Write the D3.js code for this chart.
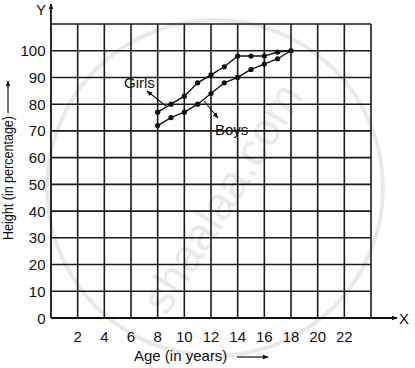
<!DOCTYPE html>
<html>
<head>
<meta charset="utf-8">
<script src="https://cdn.jsdelivr.net/npm/d3@7"></script>
<style>
  body { margin: 0; background: #fff; }
  text { font-family: "Liberation Sans", Arial, sans-serif; fill: #111; font-size: 15px; }
</style>
</head>
<body>
<script>
// data
const ages = [8, 9, 10, 11, 12, 13, 14, 15, 16, 17, 18];
const girls = [77, 80, 83, 88, 91, 94, 98, 98, 98, 99.5, 100];
const boys = [72, 75, 77, 80, 84, 88, 90, 93, 95, 97, 100];
const xTicks = [2, 4, 6, 8, 10, 12, 14, 16, 18, 20, 22];
const yTicks = [0, 10, 20, 30, 40, 50, 60, 70, 80, 90, 100];

const width = 415, height = 368;
const svg = d3.select("body").append("svg")
    .attr("width", width)
    .attr("height", height);

const x = d3.scaleLinear().domain([0, 24]).range([51, 371]);
const y = d3.scaleLinear().domain([0, 110]).range([318, 24]);

// watermark
const wm = svg.append("g").attr("opacity", 0.11);
wm.append("circle")
    .attr("cx", 215).attr("cy", 188).attr("r", 168)
    .attr("fill", "none").attr("stroke", "#444").attr("stroke-width", 4);
wm.append("text")
    .attr("transform", "translate(225,200) rotate(-58)")
    .attr("text-anchor", "middle")
    .attr("dominant-baseline", "middle")
    .style("font-size", "46px")
    .style("fill", "#444")
    .text("shaalaa.com");

// grid
const grid = svg.append("g").attr("stroke", "#1a1a1a").attr("stroke-width", 1.6);
grid.selectAll(".vx")
    .data(d3.range(2, 25, 2))
    .enter()
    .append("line")
    .attr("x1", d => x(d)).attr("x2", d => x(d))
    .attr("y1", y(0)).attr("y2", y(110));
grid.selectAll(".hy")
    .data(d3.range(10, 111, 10))
    .enter()
    .append("line")
    .attr("x1", x(0)).attr("x2", x(24))
    .attr("y1", d => y(d)).attr("y2", d => y(d));

// arrow heads
svg.append("defs").append("marker")
    .attr("id", "arr")
    .attr("viewBox", "0 0 10 10")
    .attr("refX", 9).attr("refY", 5)
    .attr("markerWidth", 6).attr("markerHeight", 6)
    .attr("markerUnits", "userSpaceOnUse")
    .attr("orient", "auto")
    .append("path")
    .attr("d", "M0,1 L10,5 L0,9 Z")
    .attr("fill", "#111");

function arrow(x1, y1, x2, y2, w) {
    svg.append("line")
        .attr("x1", x1).attr("y1", y1)
        .attr("x2", x2).attr("y2", y2)
        .attr("stroke", "#111").attr("stroke-width", w)
        .attr("marker-end", "url(#arr)");
}

// axes
arrow(x(0), y(0), x(0), 4, 1.8);
arrow(x(0), y(0), 397, y(0), 1.8);
svg.append("text").attr("x", 36).attr("y", 15).text("Y");
svg.append("text").attr("x", 399).attr("y", 324).text("X");

// tick labels
svg.selectAll(".yt")
    .data(yTicks)
    .enter()
    .append("text")
    .attr("x", 45.5)
    .attr("y", d => y(d) + 5.5)
    .attr("text-anchor", "end")
    .text(d => d);
svg.selectAll(".xt")
    .data(xTicks)
    .enter()
    .append("text")
    .attr("x", d => x(d))
    .attr("y", 342)
    .attr("text-anchor", "middle")
    .text(d => d);

// axis titles
svg.append("text")
    .attr("transform", "translate(13,240) rotate(-90)")
    .attr("textLength", 124)
    .attr("lengthAdjust", "spacingAndGlyphs")
    .text("Height (in percentage)");
arrow(8, 113, 8, 81, 1.2);
svg.append("text")
    .attr("x", 134).attr("y", 361)
    .text("Age (in years)");
arrow(237, 357, 268, 357, 1.2);

// series
const line = d3.line()
    .x((d, i) => x(ages[i]))
    .y(d => y(d));

[girls, boys].forEach(s => {
    svg.append("path")
        .datum(s)
        .attr("d", line)
        .attr("fill", "none")
        .attr("stroke", "#111")
        .attr("stroke-width", 1.4);
    svg.selectAll(null)
        .data(s)
        .enter()
        .append("circle")
        .attr("cx", (d, i) => x(ages[i]))
        .attr("cy", d => y(d))
        .attr("r", 2.6)
        .attr("fill", "#111");
});

// labels with pointers
arrow(166, 106, 147, 91, 1.1);
svg.append("text").attr("x", 124).attr("y", 88).text("Girls");

arrow(204, 101, 218, 118, 1.1);
svg.append("text").attr("x", 215).attr("y", 135).text("Boys");
</script>
</body>
</html>
